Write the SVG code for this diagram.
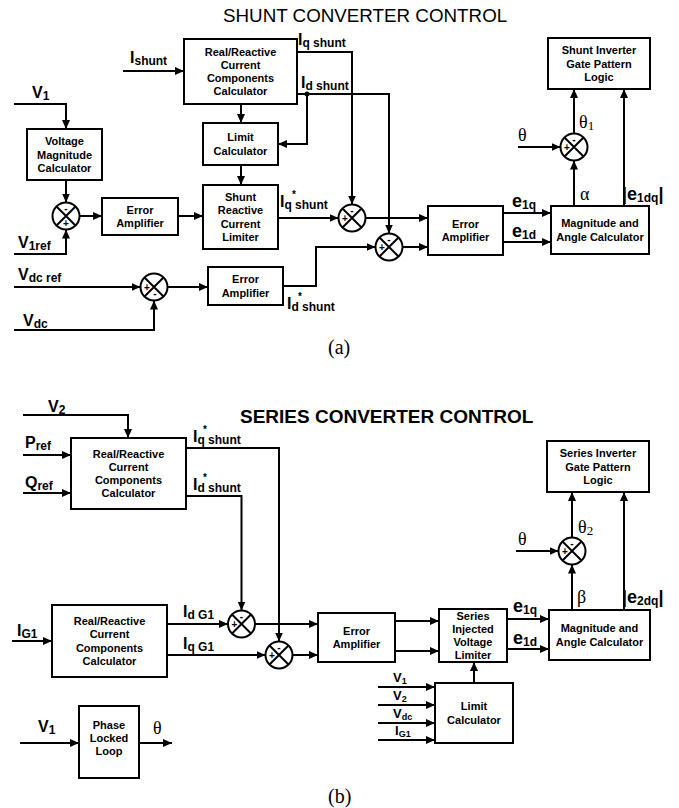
<svg xmlns="http://www.w3.org/2000/svg" width="679" height="808" viewBox="0 0 679 808">
<style>
rect{fill:#fff;stroke:#000;stroke-width:2}
.ln{fill:none;stroke:#000;stroke-width:2}
.ar{marker-end:url(#ah)}
text{font-family:"Liberation Sans",Arial,sans-serif;fill:#000}
.bt{font-size:11px;font-weight:bold;text-anchor:middle}
.lb{font-size:16px;font-weight:bold}
.sb{font-size:12px;font-weight:bold}
.ss{font-size:9px;font-weight:bold}
.sm{font-size:13px;font-weight:bold}
.ast{font-size:10px;font-weight:bold}
.eb{font-size:18px;font-weight:bold}
.gr{font-family:"Liberation Serif","Times New Roman",serif;font-size:18px}
.gs{font-family:"Liberation Serif","Times New Roman",serif;font-size:13px}
.sg{font-size:10px;font-weight:bold;text-anchor:middle}
.sx circle,.sx path{fill:#fff;stroke:#000;stroke-width:2}
</style>
<defs>
<marker id="ah" markerUnits="userSpaceOnUse" markerWidth="9" markerHeight="8" refX="9" refY="4" orient="auto"><path d="M0,0L9,4L0,8z" fill="#000"/></marker>
<g id="sx" class="sx"><circle r="13.5"/><path d="M-9.5,-9.5L9.5,9.5M9.5,-9.5L-9.5,9.5"/></g>
</defs>

<!-- titles -->
<text x="223" y="22" style="font-size:18.8px">SHUNT CONVERTER CONTROL</text>
<text x="240" y="423" style="font-size:19px;font-weight:bold">SERIES CONVERTER CONTROL</text>
<text class="gr" x="328" y="354" style="font-size:20px">(a)</text>
<text class="gr" x="328" y="803" style="font-size:20px">(b)</text>

<g id="connectors">
<!-- top -->
<path class="ln ar" d="M123,71H184"/>
<path class="ln ar" d="M297,52H352V204.5"/>
<path class="ln ar" d="M297,94H389V233.5"/>
<path class="ln ar" d="M307,94V144H278"/>
<circle cx="307" cy="94" r="2.5" fill="#000"/>
<path class="ln ar" d="M241,104V123"/>
<path class="ln ar" d="M241,165V185"/>
<path class="ln ar" d="M14,104H66V129"/>
<path class="ln ar" d="M66,180V202.5"/>
<path class="ln ar" d="M14,254H66V229.5"/>
<path class="ln ar" d="M79.5,216H102"/>
<path class="ln ar" d="M178,216H203"/>
<path class="ln ar" d="M278,218H338.5"/>
<path class="ln ar" d="M14,287H140.5"/>
<path class="ln ar" d="M14,330H154V300.5"/>
<path class="ln ar" d="M167.5,287H208"/>
<path class="ln ar" d="M283,286H316V247H375.5"/>
<path class="ln ar" d="M365.5,218H428"/>
<path class="ln ar" d="M402.5,247H428"/>
<path class="ln ar" d="M503,213H551"/>
<path class="ln ar" d="M503,242H551"/>
<path class="ln ar" d="M574,206V160.5"/>
<path class="ln ar" d="M574,133.5V89"/>
<path class="ln ar" d="M518,147H560.5"/>
<path class="ln ar" d="M624,206V89"/>
<!-- bottom -->
<path class="ln ar" d="M23,415H128V438"/>
<path class="ln ar" d="M23,455H71"/>
<path class="ln ar" d="M23,493H71"/>
<path class="ln ar" d="M186,448H279V641.5"/>
<path class="ln ar" d="M186,496H241.5V610.5"/>
<path class="ln ar" d="M12,641H52"/>
<path class="ln ar" d="M167,624H228"/>
<path class="ln ar" d="M167,655H265.5"/>
<path class="ln ar" d="M255,624H318"/>
<path class="ln ar" d="M292.5,655H318"/>
<path class="ln ar" d="M395,621H439"/>
<path class="ln ar" d="M395,651H439"/>
<path class="ln ar" d="M507,619H549"/>
<path class="ln ar" d="M507,649H549"/>
<path class="ln ar" d="M474,683V662"/>
<path class="ln ar" d="M378,687H435"/>
<path class="ln ar" d="M378,705H435"/>
<path class="ln ar" d="M378,723H435"/>
<path class="ln ar" d="M378,740H435"/>
<path class="ln ar" d="M572,610V564.5"/>
<path class="ln ar" d="M572,537.5V492"/>
<path class="ln ar" d="M516,551H558.5"/>
<path class="ln ar" d="M624,610V492"/>
<path class="ln ar" d="M20,743H79"/>
<path class="ln ar" d="M139,743H172"/>
</g>

<!-- top nodes -->
<g id="rr1"><rect x="184" y="39" width="113" height="65"/><text class="bt"><tspan x="240.5" y="55.5">Real/Reactive</tspan><tspan x="240.5" y="68.8">Current</tspan><tspan x="240.5" y="82.1">Components</tspan><tspan x="240.5" y="95.4">Calculator</tspan></text></g>
<g id="limit1"><rect x="203" y="123" width="75" height="42"/><text class="bt"><tspan x="240.5" y="141.3">Limit</tspan><tspan x="240.5" y="154.6">Calculator</tspan></text></g>
<g id="vmc"><rect x="27" y="129" width="75" height="51"/><text class="bt"><tspan x="64.5" y="145.2">Voltage</tspan><tspan x="64.5" y="158.5">Magnitude</tspan><tspan x="64.5" y="171.8">Calculator</tspan></text></g>
<g id="ea1"><rect x="102" y="198" width="76" height="37"/><text class="bt"><tspan x="140" y="213.8">Error</tspan><tspan x="140" y="227.1">Amplifier</tspan></text></g>
<g id="srcl"><rect x="203" y="185" width="75" height="64"/><text class="bt"><tspan x="240.5" y="201">Shunt</tspan><tspan x="240.5" y="214.3">Reactive</tspan><tspan x="240.5" y="227.6">Current</tspan><tspan x="240.5" y="240.9">Limiter</tspan></text></g>
<g id="ea2"><rect x="208" y="267" width="75" height="38"/><text class="bt"><tspan x="245.5" y="283.3">Error</tspan><tspan x="245.5" y="296.6">Amplifier</tspan></text></g>
<g id="ea3"><rect x="428" y="206" width="75" height="49"/><text class="bt"><tspan x="465.5" y="227.8">Error</tspan><tspan x="465.5" y="241.1">Amplifier</tspan></text></g>
<g id="mag1"><rect x="551" y="206" width="98" height="48"/><text class="bt"><tspan x="600" y="227.3">Magnitude and</tspan><tspan x="600" y="240.6">Angle Calculator</tspan></text></g>
<g id="gate1"><rect x="548" y="38" width="102" height="51"/><text class="bt"><tspan x="599" y="54.2">Shunt Inverter</tspan><tspan x="599" y="67.5">Gate Pattern</tspan><tspan x="599" y="80.8">Logic</tspan></text></g>

<g id="sum1" transform="translate(66,216)"><use href="#sx"/><text class="sg" x="0" y="-4">-</text><text class="sg" x="0" y="11">+</text></g>
<g id="sum2" transform="translate(352,218)"><use href="#sx"/><text class="sg" x="0" y="-4">-</text><text class="sg" x="-7" y="3.5">+</text></g>
<g id="sum3" transform="translate(154,287)"><use href="#sx"/><text class="sg" x="-7" y="3.5">+</text><text class="sg" x="1" y="10">-</text></g>
<g id="sum4" transform="translate(389,247)"><use href="#sx"/><text class="sg" x="0" y="-4">-</text><text class="sg" x="-7" y="3.5">+</text></g>
<g id="sumt1" transform="translate(574,147)"><use href="#sx"/><text class="sg" x="0" y="-4">-</text><text class="sg" x="-7" y="3.5">+</text></g>

<!-- top labels -->
<text class="lb" x="130" y="63">I<tspan class="sb" dy="2">shunt</tspan></text>
<text class="lb" x="298" y="45">I<tspan class="sb" dy="2">q shunt</tspan></text>
<text class="lb" x="301" y="88">I<tspan class="sb" dy="2">d shunt</tspan></text>
<text class="lb" x="32" y="98">V<tspan class="sb" dy="2">1</tspan></text>
<text class="lb" x="18" y="248">V<tspan class="sb" dy="2">1ref</tspan></text>
<text class="lb" x="18" y="280">V<tspan class="sb" dy="2">dc ref</tspan></text>
<text class="lb" x="23" y="326">V<tspan class="sb" dy="2">dc</tspan></text>
<text class="lb" x="280" y="207">I<tspan class="sb" dy="2">q shunt</tspan><tspan class="ast" x="292" y="198">*</tspan></text>
<text class="lb" x="287" y="309">I<tspan class="sb" dy="2">d shunt</tspan><tspan class="ast" x="298" y="300">*</tspan></text>
<text class="eb" x="512" y="207">e<tspan class="sb" dy="2">1q</tspan></text>
<text class="eb" x="512" y="237">e<tspan class="sb" dy="2">1d</tspan></text>
<text class="gr" x="580" y="200">α</text>
<text class="eb" x="622" y="200">|e<tspan class="sb" dy="2">1dq</tspan><tspan dy="-2">|</tspan></text>
<text class="gr" x="579" y="128">θ<tspan class="gs" dy="2">1</tspan></text>
<text class="gr" x="518" y="141">θ</text>

<!-- bottom nodes -->
<g id="rr2"><rect x="71" y="438" width="115" height="71"/><text class="bt"><tspan x="128.5" y="457.5">Real/Reactive</tspan><tspan x="128.5" y="470.8">Current</tspan><tspan x="128.5" y="484.1">Components</tspan><tspan x="128.5" y="497.4">Calculator</tspan></text></g>
<g id="gate2"><rect x="547" y="441" width="102" height="51"/><text class="bt"><tspan x="598" y="457.2">Series Inverter</tspan><tspan x="598" y="470.5">Gate Pattern</tspan><tspan x="598" y="483.8">Logic</tspan></text></g>
<g id="rr3"><rect x="52" y="605" width="115" height="72"/><text class="bt"><tspan x="109.5" y="625">Real/Reactive</tspan><tspan x="109.5" y="638.3">Current</tspan><tspan x="109.5" y="651.6">Components</tspan><tspan x="109.5" y="664.9">Calculator</tspan></text></g>
<g id="ea4"><rect x="318" y="613" width="77" height="49"/><text class="bt"><tspan x="356.5" y="634.8">Error</tspan><tspan x="356.5" y="648.1">Amplifier</tspan></text></g>
<g id="sivl"><rect x="439" y="609" width="68" height="53"/><text class="bt"><tspan x="473" y="619.5">Series</tspan><tspan x="473" y="632.8">Injected</tspan><tspan x="473" y="646.1">Voltage</tspan><tspan x="473" y="659.4">Limiter</tspan></text></g>
<g id="mag2"><rect x="549" y="610" width="101" height="50"/><text class="bt"><tspan x="599.5" y="632.3">Magnitude and</tspan><tspan x="599.5" y="645.6">Angle Calculator</tspan></text></g>
<g id="limit2"><rect x="435" y="683" width="78" height="60"/><text class="bt"><tspan x="474" y="710.3">Limit</tspan><tspan x="474" y="723.6">Calculator</tspan></text></g>
<g id="pll"><rect x="79" y="706" width="60" height="72"/><text class="bt"><tspan x="109" y="728.7">Phase</tspan><tspan x="109" y="742">Locked</tspan><tspan x="109" y="755.3">Loop</tspan></text></g>

<g id="sum5" transform="translate(241.5,624)"><use href="#sx"/><text class="sg" x="0" y="-4">-</text><text class="sg" x="-7" y="3.5">+</text></g>
<g id="sum6" transform="translate(279,655)"><use href="#sx"/><text class="sg" x="0" y="-4">-</text><text class="sg" x="-7" y="3.5">+</text></g>
<g id="sumt2" transform="translate(572,551)"><use href="#sx"/><text class="sg" x="0" y="-4">-</text><text class="sg" x="-7" y="3.5">+</text></g>

<!-- bottom labels -->
<text class="lb" x="48" y="412">V<tspan class="sb" dy="2">2</tspan></text>
<text class="lb" x="25" y="448">P<tspan class="sb" dy="2">ref</tspan></text>
<text class="lb" x="25" y="488">Q<tspan class="sb" dy="2">ref</tspan></text>
<text class="lb" x="193" y="442">I<tspan class="sb" dy="2">q shunt</tspan><tspan class="ast" x="203" y="433">*</tspan></text>
<text class="lb" x="193" y="490">I<tspan class="sb" dy="2">d shunt</tspan><tspan class="ast" x="203" y="481">*</tspan></text>
<text class="lb" x="17" y="636">I<tspan class="sb" dy="2">G1</tspan></text>
<text class="lb" x="183" y="617">I<tspan class="sb" dy="2">d G1</tspan></text>
<text class="lb" x="183" y="649">I<tspan class="sb" dy="2">q G1</tspan></text>
<text class="eb" x="513" y="612">e<tspan class="sb" dy="2">1q</tspan></text>
<text class="eb" x="513" y="644">e<tspan class="sb" dy="2">1d</tspan></text>
<text class="gr" x="577" y="603">β</text>
<text class="eb" x="622" y="603">|e<tspan class="sb" dy="2">2dq</tspan><tspan dy="-2">|</tspan></text>
<text class="gr" x="578" y="533">θ<tspan class="gs" dy="2">2</tspan></text>
<text class="gr" x="518" y="545">θ</text>
<text class="lb" x="38" y="732">V<tspan class="sb" dy="2">1</tspan></text>
<text class="gr" x="153" y="734">θ</text>
<text class="sm" x="393" y="682">V<tspan class="ss" dy="2">1</tspan></text>
<text class="sm" x="393" y="700">V<tspan class="ss" dy="2">2</tspan></text>
<text class="sm" x="393" y="718">V<tspan class="ss" dy="2">dc</tspan></text>
<text class="sm" x="395" y="735">I<tspan class="ss" dy="2">G1</tspan></text>
</svg>
